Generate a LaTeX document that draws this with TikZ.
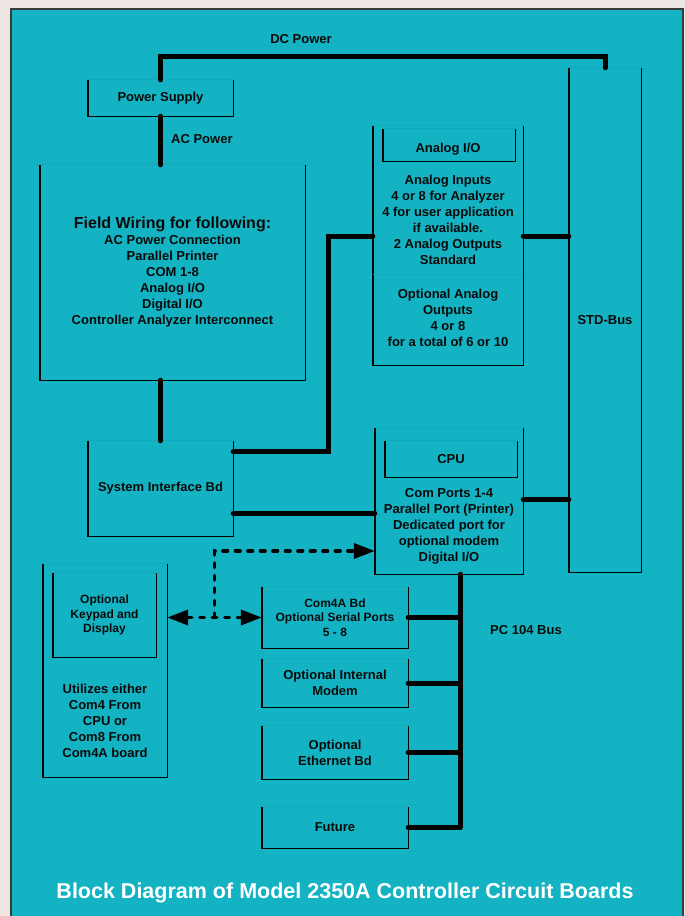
\documentclass[tikz,border=0pt]{standalone}
\usepackage{fontspec}
\setmainfont{Liberation Sans}
\usetikzlibrary{arrows.meta,calc}
\definecolor{tealbg}{HTML}{13B3C4}
\definecolor{outbg}{HTML}{EEE6E3}
\definecolor{framec}{HTML}{3A3A3A}
\definecolor{faintc}{HTML}{10AABA}
\definecolor{txt}{HTML}{0A0A0A}
\tikzset{
  lbl/.style={font=\fontsize{13}{16}\selectfont\bfseries, text=txt, align=center, inner sep=0pt},
  sml/.style={font=\fontsize{12}{14.5}\selectfont\bfseries, text=txt, align=center, inner sep=0pt},
  blk/.style={lbl, draw=none, inner sep=0pt},
  side/.style={draw=black, line width=1.4pt},
  faint/.style={draw=faintc, line width=1pt},
  bus/.style={draw=black, line width=5pt, line cap=round},
  dasharr/.style={draw=black, line width=3.6pt, line cap=round, dash pattern=on 4.5pt off 8pt},
  tip/.style={-{Triangle[length=21pt,width=15pt]}},
  tips/.style={{Triangle[length=21pt,width=15pt]}-{Triangle[length=21pt,width=15pt]}}
}
\begin{document}
\begin{tikzpicture}[x=1pt,y=-1pt]
\useasboundingbox (0,0) rectangle (685,916);
\fill[outbg] (0,0) rectangle (685,916);
\fill[tealbg, draw=framec, line width=2pt] (11,9) rectangle (683,930);

% boxes
\node[blk, minimum width=145pt, minimum height=36pt] (ps) at (160.5,98) {Power Supply};
\node[blk, minimum width=265pt, minimum height=215pt] (fw) at (172.5,272.5) {};
\node[blk, minimum width=145pt, minimum height=95pt] (si) at (160.5,488.5) {System Interface Bd};
\node[blk, minimum width=150pt, minimum height=239pt] (an) at (448,245.5) {};
\node[blk, minimum width=132pt, minimum height=32pt] (ani) at (449,145) {};
\node[blk, minimum width=148pt, minimum height=146pt] (cpu) at (449,501) {};
\node[blk, minimum width=132pt, minimum height=36pt] (cpui) at (451,459) {CPU};
\node[blk, minimum width=72pt, minimum height=504pt] (std) at (605,320) {STD-Bus};
\node[blk, minimum width=124pt, minimum height=213pt] (kp) at (105,670.5) {};
\node[blk, sml, minimum width=103pt, minimum height=84pt] (kpi) at (104.5,615) {Optional\\Keypad and\\Display};
\node[blk, sml, minimum width=146pt, minimum height=61pt] (c4) at (335,617.5) {Com4A Bd\\Optional Serial Ports\\5 - 8};
\node[blk, minimum width=146pt, minimum height=48pt] (mo) at (335,683) {Optional Internal\\Modem};
\node[blk, minimum width=146pt, minimum height=53pt] (et) at (335,752.5) {Optional\\Ethernet Bd};
\node[blk, minimum width=146pt, minimum height=41pt] (fu) at (335,827.5) {Future};

\foreach \n in {ps,fw,si,an,ani,cpu,cpui,std,kp,kpi,c4,mo,et,fu} {
  \draw[faint] (\n.north west) -- (\n.north east);
  \draw[side] (\n.north west) -- (\n.south west) -- (\n.south east) -- (\n.north east);
}
\draw[faint] ([yshift=-149pt]an.north west) -- ([yshift=-149pt]an.north east);

% texts inside boxes
\node[lbl, font=\fontsize{16}{17}\selectfont\bfseries] (fwt) at (172.5,224) {Field Wiring for following:};
\node[lbl] (fwb) at (172.5,281) {AC Power Connection\\Parallel Printer\\COM 1-8\\Analog I/O\\Digital I/O\\Controller Analyzer Interconnect};
\node[lbl] (anl) at (448,149) {Analog I/O};
\node[lbl] (ant1) at (448,220) {Analog Inputs\\4 or 8 for Analyzer\\4 for user application\\if available.\\2 Analog Outputs\\Standard};
\node[lbl] (ant2) at (448,317.5) {Optional Analog\\Outputs\\4 or 8\\for a total of 6 or 10};
\node[lbl] (cput) at (449,526) {Com Ports 1-4\\Parallel Port (Printer)\\Dedicated port for\\optional modem\\Digital I/O};
\node[lbl] (kpt) at (105,720.5) {Utilizes either\\Com4 From\\CPU or\\Com8 From\\Com4A board};

% free labels
\node[lbl] (dcl) at (301,39) {DC Power};
\node[lbl, anchor=west] (acl) at (171,139) {AC Power};
\node[lbl] (pcl) at (526,630) {PC 104 Bus};
\node[font=\fontsize{21.5}{24}\selectfont\bfseries, text=white, inner sep=0pt] (title) at (345,893) {Block Diagram of Model 2350A Controller Circuit Boards};

% power connectors
\draw[bus] (ps.north) -- ([yshift=23pt]ps.north) -| (std.north);
\draw[bus] (ps.south) -- (ps.south |- fw.north);
\draw[bus] (si.north |- fw.south) -- (si.north);

% system interface / analog / cpu / std
\coordinate (bend) at (328,236);
\draw[bus] ([yshift=-11pt]si.north east) -| (bend) -- (bend -| an.west);
\draw[bus] (bend -| an.east) -- (bend -| std.west);
\draw[bus] ([yshift=-72pt]cpu.north east) coordinate (c1) -- (c1 -| std.west);
\draw[bus] ([yshift=23pt]si.south east) coordinate (c2) -- (c2 -| cpu.west);

% PC 104 bus
\draw[bus] ([xshift=11pt]cpu.south) coordinate (p0) -- (p0 |- fu.east);
\foreach \n in {c4,mo,et,fu} \draw[bus] (\n.east) -- (p0 |- \n.east);

% dashed links
\coordinate (mid) at ($(kp.east |- c4.west)!0.5!(c4.west)$);
\draw[dasharr, tips] (kp.east |- c4.west) -- (c4.west);
\draw[dasharr, tip] (mid) |- ([yshift=-50pt]cpu.west);
\end{tikzpicture}
\end{document}
